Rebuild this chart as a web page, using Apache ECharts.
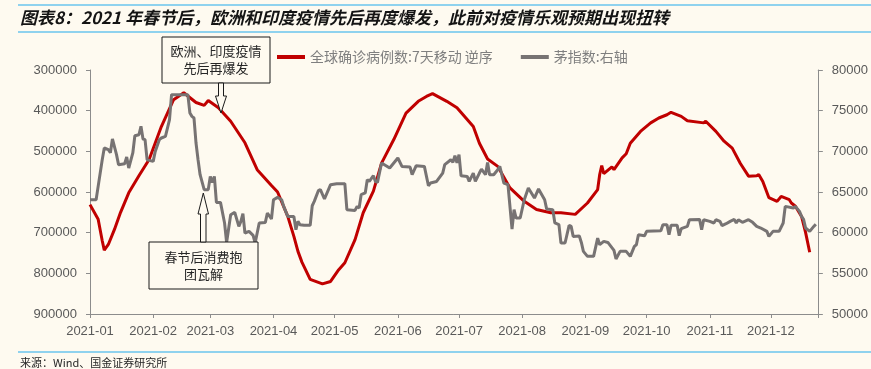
<!DOCTYPE html>
<html>
<head>
<meta charset="utf-8">
<script src="https://cdn.jsdelivr.net/npm/echarts@6/dist/echarts.min.js"></script>
<style>
  html, body { margin: 0; padding: 0; background: #fefaf0; }
  #chart { width: 871px; height: 369px; }
</style>
</head>
<body>
<div id="chart"></div>
<script>
// ---- data ----
const monthTicks = ['2021-01-01', '2021-02-01', '2021-03-01', '2021-04-01', '2021-05-01', '2021-06-01',
  '2021-07-01', '2021-08-01', '2021-09-01', '2021-10-01', '2021-11-01', '2021-12-01'];
const axisEnd = '2021-12-24';

// 全球确诊病例数:7天移动 (left axis, inverted)
const caseDates = ['01-01', '01-05', '01-07', '01-08', '01-10', '01-13', '01-16', '01-20', '01-25', '01-30',
  '02-05', '02-11', '02-16', '02-22', '02-26', '02-28', '03-05', '03-11', '03-18', '03-24', '03-31',
  '04-03', '04-08', '04-11', '04-13', '04-15', '04-19', '04-25', '04-29', '05-03', '05-06', '05-11',
  '05-15', '05-20', '05-24', '05-30', '06-05', '06-11', '06-15', '06-18', '06-25', '06-30', '07-08',
  '07-11', '07-15', '07-20', '07-26', '08-02', '08-08', '08-15', '08-20', '08-27', '09-02', '09-07',
  '09-08', '09-09', '09-10', '09-14', '09-15', '09-19', '09-21', '09-23', '09-28', '10-03', '10-07',
  '10-11', '10-13', '10-18', '10-21', '10-29', '10-30', '11-04', '11-08', '11-12', '11-16', '11-20',
  '11-24', '11-25', '11-27', '11-30', '12-04', '12-06', '12-10', '12-11', '12-13', '12-16', '12-18', '12-20'];
const caseValues = [631000, 667000, 720000, 743000, 729000, 692000, 650000, 602000, 560000, 520000,
  439000, 373000, 356000, 380000, 387000, 375000, 393000, 426000, 479000, 545000, 584000,
  600000, 660000, 709000, 746000, 773000, 815000, 826000, 820000, 791000, 774000, 717000,
  651000, 598000, 529000, 471000, 406000, 377000, 365000, 358000, 377000, 393000, 439000,
  480000, 519000, 537000, 590000, 623000, 643000, 651000, 651000, 655000, 627000, 594000,
  557000, 535000, 555000, 538000, 545000, 516000, 506000, 480000, 451000, 430000, 418000,
  410000, 404000, 414000, 425000, 430000, 426000, 451000, 475000, 492000, 530000, 561000,
  560000, 557000, 574000, 614000, 623000, 611000, 619000, 627000, 635000, 660000, 700000, 748000];

// 茅指数 (right axis)
const maoDates = ['01-01', '01-04', '01-05', '01-07', '01-08', '01-10', '01-11', '01-12', '01-14', '01-15',
  '01-18', '01-19', '01-20', '01-22', '01-23', '01-25', '01-26', '01-27', '01-28', '01-29', '02-01',
  '02-02', '02-04', '02-05', '02-07', '02-09', '02-10', '02-18', '02-19', '02-20', '02-21', '02-22',
  '02-23', '02-24', '02-26', '02-28', '03-01', '03-02', '03-03', '03-04', '03-06', '03-08', '03-09',
  '03-11', '03-13', '03-15', '03-16', '03-17', '03-18', '03-20', '03-22', '03-23', '03-25', '03-28',
  '03-29', '03-31', '04-01', '04-03', '04-05', '04-06', '04-08', '04-11', '04-12', '04-13', '04-14',
  '04-16', '04-19', '04-20', '04-21', '04-23', '04-24', '04-26', '04-29', '05-02', '05-06', '05-07',
  '05-11', '05-12', '05-13', '05-14', '05-16', '05-17', '05-18', '05-20', '05-21', '05-22', '05-24',
  '05-28', '06-01', '06-03', '06-07', '06-08', '06-10', '06-14', '06-16', '06-17', '06-20', '06-23',
  '06-24', '06-27', '06-28', '06-29', '06-30', '07-01', '07-02', '07-05', '07-06', '07-08', '07-09',
  '07-11', '07-12', '07-14', '07-15', '07-16', '07-18', '07-20', '07-21', '07-23', '07-25', '07-27',
  '07-28', '07-29', '07-31', '08-02', '08-04', '08-07', '08-09', '08-12', '08-13', '08-16', '08-17',
  '08-19', '08-20', '08-22', '08-24', '08-25', '08-26', '08-29', '08-30', '08-31', '09-02', '09-05',
  '09-07', '09-08', '09-10', '09-12', '09-15', '09-16', '09-18', '09-21', '09-23', '09-25', '09-26',
  '09-27', '09-30', '10-01', '10-08', '10-09', '10-11', '10-12', '10-13', '10-16', '10-17', '10-18',
  '10-21', '10-22', '10-27', '10-28', '10-29', '11-01', '11-03', '11-04', '11-06', '11-07', '11-09',
  '11-11', '11-13', '11-14', '11-15', '11-17', '11-20', '11-22', '11-24', '11-26', '11-29', '11-30',
  '12-02', '12-05', '12-07', '12-08', '12-12', '12-13', '12-15', '12-16', '12-17', '12-18', '12-20',
  '12-22', '12-23'];
const maoValues = [64050, 64050, 65690, 68970, 70410, 70200, 69830, 71520, 69590, 68360,
  68480, 69300, 67950, 69800, 71920, 72040, 73070, 71520, 71430, 68970, 68760,
  69990, 71430, 71640, 71840, 73890, 76960, 76960, 74710, 74300, 74100, 71020,
  68970, 67130, 65290, 65290, 66920, 66180, 66920, 63720, 63720, 61190, 58800,
  62210, 62490, 60770, 61380, 62330, 59960, 60160, 59670, 58730, 61190, 61260,
  62420, 61680, 64050, 64340, 64050, 63230, 62000, 62000, 60370, 61390, 60980,
  60900, 60900, 63310, 63850, 65160, 65290, 64140, 65900, 66020, 66020, 62820,
  62740, 63230, 63030, 64670, 64880, 66510, 66300, 67000, 66300, 66180, 68570,
  67950, 69180, 68150, 68070, 67130, 68230, 68150, 65770, 66100, 66300, 67330,
  68360, 68970, 68640, 69460, 68570, 69590, 67000, 66920, 66300, 67330, 66300,
  67330, 67820, 67130, 68640, 67130, 67130, 67740, 68150, 66100, 65900, 60450,
  62820, 61800, 61800, 64050, 65490, 64260, 65370, 64050, 62900, 62820, 61190,
  60980, 58730, 58730, 60900, 60770, 59540, 59580, 58800, 57700, 57090, 57090,
  59330, 58520, 58930, 58800, 57820, 56760, 57700, 57700, 57090, 58320, 58520,
  59750, 59620, 60160, 60240, 60980, 60980, 59750, 60900, 60900, 59630, 60490,
  60770, 61590, 61630, 60370, 61590, 61390, 61190, 61590, 61390, 60860, 61100,
  61390, 61630, 61190, 61590, 61270, 61590, 61270, 60770, 60570, 60160, 59540,
  60160, 60160, 61190, 63230, 63030, 63230, 62620, 62000, 61630, 60570, 60160,
  60770, 61050];

const seriesNames = ['全球确诊病例数:7天移动 逆序', '茅指数:右轴'];
const titleText = '图表8：2021 年春节后，欧洲和印度疫情先后再度爆发，此前对疫情乐观预期出现扭转';
const sourceText = '来源：Wind、国金证券研究所';

// ---- chart ----
const chartInit = () => {
  const $chartEl = document.getElementById('chart');
  const chart = echarts.init($chartEl, null, { renderer: 'canvas' });

  // dates as UTC day timestamps on a plain value axis
  const ts = s => Date.parse(s + 'T00:00:00Z');
  const pad = n => (n < 10 ? '0' + n : '' + n);
  const caseData = caseDates.map((d, i) => [ts('2021-' + d), caseValues[i]]);
  const maoData = maoDates.map((d, i) => [ts('2021-' + d), maoValues[i]]);
  const tickValues = monthTicks.map(ts);

  const axisColor = '#8c8c8c';
  const labelColor = '#595959';
  const blue = '#8fd2ee';
  const cjk = '"Noto Sans CJK SC", sans-serif';
  const plainNumber = v => String(v);

  const box = (x, y, w, h, lines) => [
    {
      type: 'rect',
      shape: { x: x, y: y, width: w, height: h },
      style: { fill: '#fefaf0', stroke: '#1a1a1a', lineWidth: 1 },
      z: 100
    },
    {
      type: 'text',
      x: x + w / 2,
      y: y + h / 2,
      style: {
        text: lines.join('\n'),
        fill: '#262626',
        font: '13px ' + cjk,
        align: 'center',
        verticalAlign: 'middle',
        lineHeight: 17
      },
      z: 101
    }
  ];

  const arrow = points => ({
    type: 'polygon',
    shape: { points: points },
    style: { fill: '#fefaf0', stroke: '#1a1a1a', lineWidth: 1 },
    z: 100
  });

  chart.setOption({
    backgroundColor: '#fefaf0',
    animation: false,
    textStyle: { fontFamily: '"Liberation Sans", Arial, sans-serif' },
    title: {
      text: titleText,
      left: 20,
      top: 9,
      padding: 0,
      textStyle: {
        fontFamily: cjk,
        fontSize: 17,
        fontWeight: 'bold',
        fontStyle: 'italic',
        color: '#141414'
      }
    },
    legend: {
      left: 277,
      top: 50,
      padding: 0,
      itemWidth: 28,
      itemHeight: 4,
      itemGap: 28,
      icon: 'rect',
      data: seriesNames,
      textStyle: { fontFamily: cjk, fontSize: 14, color: '#7f7f7f' }
    },
    grid: { left: 90, right: 50, top: 70, bottom: 55 },
    xAxis: {
      type: 'value',
      min: ts('2021-01-01'),
      max: ts(axisEnd),
      splitLine: { show: false },
      axisLine: { onZero: false, lineStyle: { color: axisColor, width: 1 } },
      axisTick: {
        show: true,
        length: 4,
        customValues: tickValues.concat([ts(axisEnd)]),
        lineStyle: { color: axisColor }
      },
      axisLabel: {
        customValues: tickValues,
        color: labelColor,
        fontSize: 13,
        margin: 11,
        formatter: v => {
          const d = new Date(v);
          return d.getUTCFullYear() + '-' + pad(d.getUTCMonth() + 1);
        }
      }
    },
    yAxis: [
      {
        type: 'value',
        inverse: true,
        min: 300000,
        max: 900000,
        interval: 100000,
        splitLine: { show: false },
        axisLine: { show: true, lineStyle: { color: axisColor } },
        axisTick: { show: true, length: 4, lineStyle: { color: axisColor } },
        axisLabel: { color: labelColor, fontSize: 13, margin: 13, formatter: plainNumber }
      },
      {
        type: 'value',
        position: 'right',
        min: 50000,
        max: 80000,
        interval: 5000,
        splitLine: { show: false },
        axisLine: { show: true, lineStyle: { color: axisColor } },
        axisTick: { show: true, length: 5, lineStyle: { color: axisColor } },
        axisLabel: { color: labelColor, fontSize: 13, margin: 14, formatter: plainNumber }
      }
    ],
    series: [
      {
        name: seriesNames[0],
        type: 'line',
        yAxisIndex: 0,
        showSymbol: false,
        symbol: 'none',
        color: '#c00000',
        lineStyle: { color: '#c00000', width: 3 },
        z: 2,
        data: caseData
      },
      {
        name: seriesNames[1],
        type: 'line',
        yAxisIndex: 1,
        showSymbol: false,
        symbol: 'none',
        color: '#777373',
        lineStyle: { color: '#777373', width: 3 },
        z: 3,
        data: maoData
      }
    ],
    graphic: [
      // blue rules above/below the title and above the source line
      { type: 'line', shape: { x1: 18, y1: 5, x2: 871, y2: 5 }, style: { stroke: blue, lineWidth: 2 } },
      { type: 'line', shape: { x1: 18, y1: 32, x2: 871, y2: 32 }, style: { stroke: blue, lineWidth: 2 } },
      { type: 'line', shape: { x1: 18, y1: 352, x2: 871, y2: 352 }, style: { stroke: blue, lineWidth: 2 } },
      {
        type: 'text',
        left: 20,
        top: 357,
        style: { text: sourceText, fill: '#262626', font: '11px ' + cjk }
      },
      // annotation 1: down arrow
      ...box(162, 37, 108, 46, ['欧洲、印度疫情', '先后再爆发']),
      arrow([[218.5, 83], [223.5, 83], [223.5, 96], [226.5, 96], [221, 113], [215.5, 96], [218.5, 96]]),
      // annotation 2: up arrow
      ...box(149, 242, 109, 47, ['春节后消费抱', '团瓦解']),
      arrow([[200.5, 242], [206, 242], [206, 214], [208.5, 214], [203.3, 193], [198, 214], [200.5, 214]])
    ]
  });
};

chartInit();
</script>
</body>
</html>
